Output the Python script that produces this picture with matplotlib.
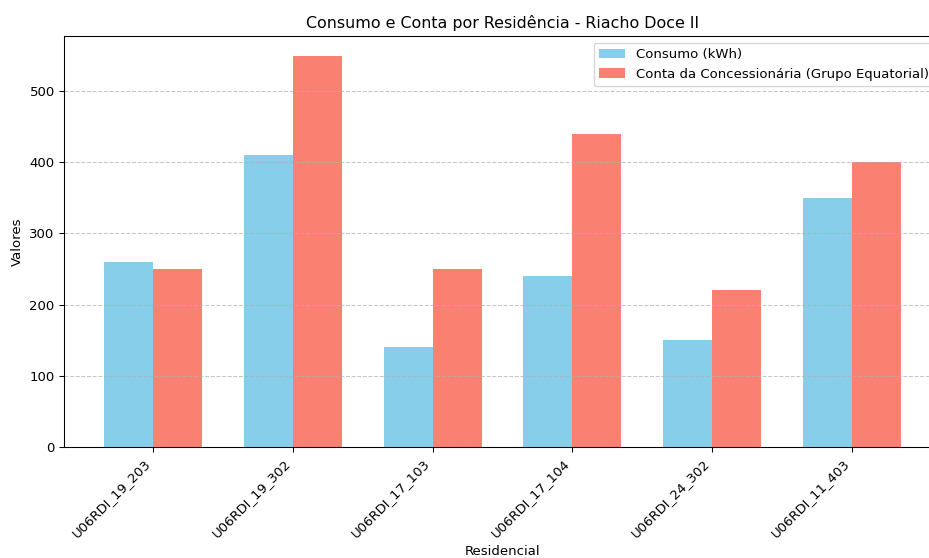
import numpy as np
import matplotlib.pyplot as plt

residencias = ["U06RDI_19_203", "U06RDI_19_302", "U06RDI_17_103",
               "U06RDI_17_104", "U06RDI_24_302", "U06RDI_11_403"]
consumo = [260, 410, 140, 240, 150, 350]
conta = [250, 550, 250, 440, 220, 400]

x = np.arange(len(residencias))
largura = 0.35

# reference looks rendered slightly smaller than 100 dpi
dpi = 95.6
fig = plt.figure(figsize=(929 / dpi, 558 / dpi), dpi=dpi)
# the original chart is cut off on the right, so the axes run past the figure edge
ax = fig.add_axes([64 / 929, 111 / 558, 877 / 929, 411 / 558])

ax.bar(x - largura / 2, consumo, largura, label="Consumo (kWh)", color="skyblue")
ax.bar(x + largura / 2, conta, largura, label="Conta da Concessionária (Grupo Equatorial)", color="salmon")

ax.set_xlabel("Residencial")
ax.set_ylabel("Valores")
ax.set_title("Consumo e Conta por Residência - Riacho Doce II")
ax.set_xticks(x)
ax.set_xticklabels(residencias, rotation=45, ha="right")
ax.legend(loc="upper right")
ax.grid(axis="y", linestyle="--", alpha=0.7)

fig.savefig("out.png", dpi=dpi)
